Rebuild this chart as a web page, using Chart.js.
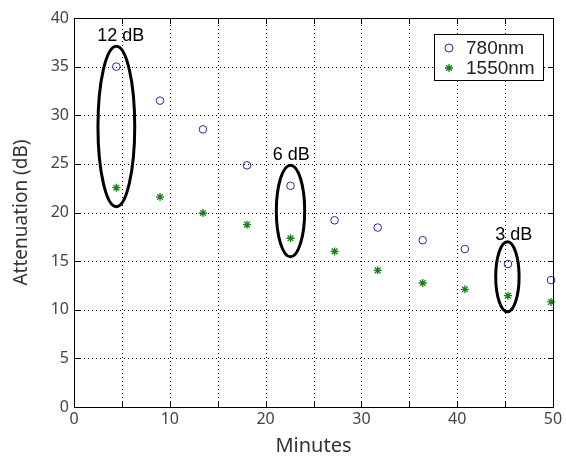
<!DOCTYPE html>
<html><head><meta charset="utf-8">
<script src="https://cdn.jsdelivr.net/npm/chart.js@4/dist/chart.umd.min.js"></script>
<style>html,body{margin:0;padding:0;background:#fff}#wrap{width:566px;height:458px}</style>
</head><body><div id="wrap"><canvas id="c" width="566" height="458"></canvas></div>
<script>
const minutes = [4.42, 8.98, 13.46, 18.06, 22.6, 27.2, 31.7, 36.4, 40.8, 45.3, 49.8];
const att780  = [35.0, 31.5, 28.55, 24.85, 22.75, 19.2, 18.45, 17.15, 16.25, 14.7, 13.05];
const att1550 = [22.55, 21.6, 19.95, 18.75, 17.35, 16.0, 14.05, 12.75, 12.1, 11.45, 10.8];
const seriesNames = ['780nm', '1550nm'];
const xTicks = [0, 10, 20, 30, 40, 50];
const xGrid = [0, 5, 10, 15, 20, 25, 30, 35, 40, 45, 50];
const yTicks = [0, 5, 10, 15, 20, 25, 30, 35, 40];
// annotation ellipses (data units)
const noteLabels = ['12 dB', '6 dB', '3 dB'];
const noteCx = [4.42, 22.6, 45.24];
const noteCy = [28.85, 20.16, 13.4];
const noteRx = [1.92, 1.48, 1.22];
const noteRy = [8.25, 4.71, 3.6];
const noteTextX = [4.88, 22.67, 45.9];
const noteTextY = [38.1, 25.9, 17.7];

const tickFont = '"Noto Sans", "Open Sans", sans-serif';
const noteFont = '"Liberation Sans", Arial, sans-serif';

function area(chart) {
  const xs = chart.scales.x, ys = chart.scales.y;
  return {
    left: Math.round(xs.getPixelForValue(0)), right: Math.round(xs.getPixelForValue(50)),
    top: Math.round(ys.getPixelForValue(40)), bottom: Math.round(ys.getPixelForValue(0))
  };
}

const gridPlugin = {
  id: 'gridPlugin',
  beforeDatasetsDraw(chart) {
    const ctx = chart.ctx, xs = chart.scales.x, ys = chart.scales.y, a = area(chart);
    ctx.save();
    ctx.fillStyle = '#000';
    xGrid.forEach(v => {
      const px = Math.round(xs.getPixelForValue(v));
      for (let y = a.bottom - 2; y > a.top; y -= 4) ctx.fillRect(px, y, 1, 1);
    });
    yTicks.forEach(v => {
      const py = Math.round(ys.getPixelForValue(v));
      for (let x = a.left + 2; x < a.right; x += 4) ctx.fillRect(x, py, 1, 1);
    });
    ctx.restore();
  }
};

const overlay = {
  id: 'overlay',
  afterDraw(chart) {
    const ctx = chart.ctx, xs = chart.scales.x, ys = chart.scales.y, a = area(chart);
    ctx.save();
    ctx.fillStyle = '#000';
    // box
    ctx.fillRect(a.left, a.top, a.right - a.left + 1, 1);
    ctx.fillRect(a.left, a.bottom, a.right - a.left + 1, 1);
    ctx.fillRect(a.left, a.top, 1, a.bottom - a.top + 1);
    ctx.fillRect(a.right, a.top, 1, a.bottom - a.top + 1);
    // inward ticks
    xGrid.forEach(v => {
      const px = Math.round(xs.getPixelForValue(v));
      ctx.fillRect(px, a.bottom - 5, 1, 5);
      ctx.fillRect(px, a.top + 1, 1, 5);
    });
    yTicks.forEach(v => {
      const py = Math.round(ys.getPixelForValue(v));
      ctx.fillRect(a.left + 1, py, 5, 1);
      ctx.fillRect(a.right - 5, py, 5, 1);
    });
    // ellipses
    ctx.strokeStyle = '#000';
    ctx.lineWidth = 3;
    for (let i = 0; i < noteLabels.length; i++) {
      const cx = xs.getPixelForValue(noteCx[i]), cy = ys.getPixelForValue(noteCy[i]);
      const rx = Math.abs(xs.getPixelForValue(noteCx[i] + noteRx[i]) - cx);
      const ry = Math.abs(ys.getPixelForValue(noteCy[i] + noteRy[i]) - cy);
      ctx.beginPath(); ctx.ellipse(cx, cy, rx, ry, 0, 0, Math.PI * 2); ctx.stroke();
      ctx.fillStyle = '#000';
      ctx.font = '18px ' + noteFont;
      ctx.textAlign = 'center'; ctx.textBaseline = 'middle';
      ctx.fillText(noteLabels[i], xs.getPixelForValue(noteTextX[i]), ys.getPixelForValue(noteTextY[i]));
    }
    // legend
    const lx = 434, ly = 34, lw = 110, lh = 47;
    ctx.fillStyle = '#fff'; ctx.fillRect(lx, ly, lw, lh);
    ctx.fillStyle = '#000';
    ctx.fillRect(lx, ly, lw, 1); ctx.fillRect(lx, ly + lh - 1, lw, 1);
    ctx.fillRect(lx, ly, 1, lh); ctx.fillRect(lx + lw - 1, ly, 1, lh);
    chart.data.datasets.forEach((ds, i) => {
      const yy = 48 + i * 20;
      ctx.save();
      ctx.strokeStyle = ds.borderColor; ctx.fillStyle = ds.backgroundColor; ctx.lineWidth = ds.borderWidth;
      Chart.helpers.drawPoint(ctx, {pointStyle: ds.pointStyle, radius: 4, borderWidth: ds.borderWidth, rotation: 0}, 449, yy);
      ctx.restore();
      ctx.fillStyle = '#222';
      ctx.font = '19px ' + noteFont;
      ctx.textAlign = 'left'; ctx.textBaseline = 'middle';
      ctx.fillText(ds.label, 466, yy + 0.5);
    });
    ctx.restore();
  }
};

new Chart(document.getElementById('c'), {
  type: 'scatter',
  data: {
    datasets: [
      { label: seriesNames[0], data: minutes.map((m, i) => ({x: m, y: att780[i]})), clip: false,
        pointStyle: 'circle', pointRadius: 3.8, borderColor: '#2a2a9e', backgroundColor: 'rgba(0,0,0,0)', borderWidth: 1, pointHoverRadius: 3.8 },
      { label: seriesNames[1], data: minutes.map((m, i) => ({x: m, y: att1550[i]})), clip: false,
        pointStyle: 'star', pointRadius: 4, borderColor: '#1a801a', backgroundColor: '#1a801a', borderWidth: 1.3, pointHoverRadius: 4 }
    ]
  },
  options: {
    responsive: false, animation: false, devicePixelRatio: 1,
    layout: { padding: { top: 18, right: 13, left: 0, bottom: 0 } },
    plugins: { legend: { display: false }, tooltip: { enabled: false } },
    scales: {
      x: {
        type: 'linear', min: 0, max: 50,
        afterBuildTicks: s => { s.ticks = xTicks.map(v => ({value: v})); },
        ticks: { autoSkip: false, maxRotation: 0, padding: 3, color: '#444', font: { family: tickFont, size: 16 } },
        grid: { display: false, drawTicks: false },
        border: { display: true, color: '#000', width: 1 },
        title: { display: true, text: 'Minutes', color: '#333', font: { family: tickFont, size: 20 }, padding: { top: 2, bottom: 0 } },
        afterFit: s => { s.height = 51; }
      },
      y: {
        type: 'linear', min: 0, max: 40,
        afterBuildTicks: s => { s.ticks = yTicks.map(v => ({value: v})); },
        ticks: { autoSkip: false, padding: 5, color: '#444', font: { family: tickFont, size: 16 } },
        grid: { display: false, drawTicks: false },
        border: { display: true, color: '#000', width: 1 },
        title: { display: true, text: 'Attenuation (dB)', color: '#333', font: { family: tickFont, size: 19 }, padding: { top: 10, bottom: 0 } },
        afterFit: s => { s.width = 74; }
      }
    }
  },
  plugins: [gridPlugin, overlay]
});
</script></body></html>
